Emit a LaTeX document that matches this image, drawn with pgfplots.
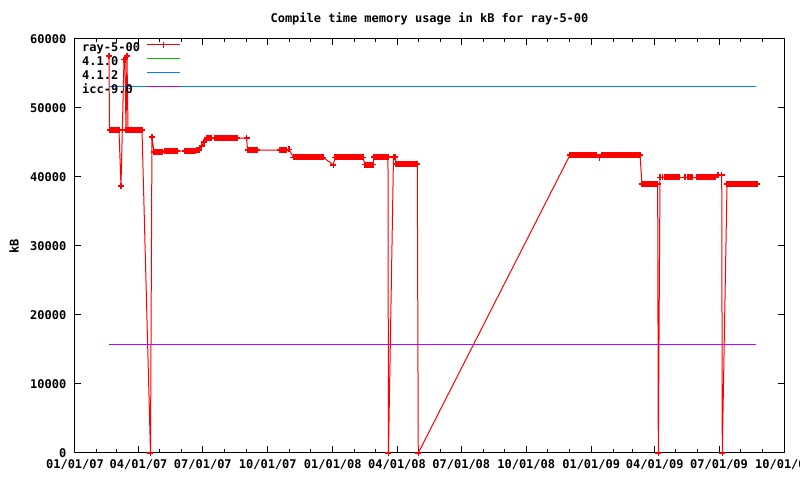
\documentclass[border=0pt]{standalone}
\usepackage{pgfplots}
\pgfplotsset{compat=1.18}
\usepackage{fontspec}
\setmainfont{DejaVu Sans Mono}
\definecolor{gpred}{RGB}{255,0,0}
\definecolor{gpgreen}{RGB}{0,192,0}
\definecolor{gpblue}{RGB}{0,128,255}
\definecolor{gpmag}{RGB}{192,0,255}
\begin{document}
\begin{tikzpicture}[font=\fontsize{12bp}{13bp}\selectfont\bfseries]
\begin{axis}[
 scale only axis, width=709bp, height=414bp,
 xmin=0, xmax=1004, ymin=0, ymax=60000,
 scaled y ticks=false,
 xtick={0,90,181,273,365,456,547,639,731,821,912,1004},
 xticklabels={01/01/07,04/01/07,07/01/07,10/01/07,01/01/08,04/01/08,07/01/08,10/01/08,01/01/09,04/01/09,07/01/09,10/01/09},
 minor xtick={31,59,120,151,212,243,304,334,396,425,486,517,578,608,669,700,762,790,851,882,943,974},
 ytick={0,10000,20000,30000,40000,50000,60000},
 yticklabels={0,10000,20000,30000,40000,50000,60000},
 tick align=inside,
 major tick length=6.5bp, minor tick length=3.5bp,
 tick style={black, line width=1bp},
 axis line style={black, line width=1bp},
 axis on top=true,
 clip=false,
 xticklabel style={anchor=north, inner sep=0pt, yshift=-6.5bp},
 yticklabel style={anchor=east, inner sep=0pt, xshift=-8.5bp},
 title={Compile time memory usage in kB for ray-5-00},
 title style={at={(0.5,1)}, anchor=base, inner sep=0pt, yshift=11bp},
 legend plot pos=right,
 legend cell align=left,
 legend image code/.code={\draw[mark repeat=2,mark phase=2,#1] plot coordinates {(0bp,4bp) (16.5bp,4bp) (33bp,4bp)};},
 legend style={at={(0.0092,0.994)}, anchor=north west, draw=none, fill=none, inner sep=0pt,
   row sep=1bp, column sep=6bp, nodes={inner sep=0.5bp, text height=9bp, text depth=3bp}},
]
\addplot[color=gpred, line width=1bp, mark=+, mark size=3bp, mark options={solid, line width=1.5bp}] table {
48.1 57500
48.9 46800
51.0 46800
53.8 46800
56.6 46800
59.5 46800
62.3 46800
65.1 38700
69.4 57000
70.8 57000
72.2 46800
73.6 57500
75.1 46800
77.9 46800
80.7 46800
83.5 46800
86.4 46800
89.2 46800
92.0 46800
94.9 46800
106.9 0
109.0 45800
111.9 43600
114.7 43600
117.5 43600
120.4 43600
123.2 43600
127.4 43750
130.3 43750
133.1 43750
135.9 43750
138.8 43750
141.6 43750
144.4 43750
155.8 43750
158.6 43750
161.4 43750
164.3 43750
167.1 43750
169.9 43750
172.8 43900
175.6 43900
179.4 44500
182.7 45100
186.9 45650
189.7 45650
192.6 45650
198.2 45650
201.1 45650
203.9 45650
206.7 45650
209.6 45650
212.4 45650
215.2 45650
218.1 45650
220.9 45650
223.7 45650
226.6 45650
229.4 45650
243.1 45650
244.3 43900
246.4 43900
249.2 43900
252.0 43900
254.9 43900
257.7 43900
290.3 43900
293.1 43900
296.0 43900
298.8 43900
303.0 44000
309.4 42850
311.5 42850
314.4 42850
317.2 42850
320.0 42850
322.9 42850
325.7 42850
328.5 42850
331.4 42850
334.2 42850
337.0 42850
339.8 42850
342.7 42850
345.5 42850
348.3 42850
351.2 42850
365.8 41750
368.2 42850
371.0 42850
373.8 42850
376.7 42850
379.5 42850
382.3 42850
385.2 42850
388.0 42850
390.8 42850
393.7 42850
396.5 42850
399.3 42850
402.1 42850
405.0 42850
407.8 42850
410.7 41800
413.5 41800
416.3 41800
419.1 41800
422.0 41800
423.4 42900
426.2 42900
429.1 42900
431.9 42900
434.7 42900
437.6 42900
440.4 42900
443.2 42900
443.9 0
451.0 42900
453.1 42900
454.6 41850
457.4 41850
460.2 41850
463.1 41850
465.9 41850
468.7 41850
471.6 41850
474.4 41850
477.2 41850
480.0 41850
482.9 41850
484.7 41850
486.1 0
701.0 43200
703.8 43200
706.6 43200
709.5 43200
712.3 43200
715.1 43200
718.0 43200
720.8 43200
723.6 43200
726.5 43200
729.3 43200
732.1 43200
734.9 43200
737.8 43200
742.4 42800
746.3 43200
749.1 43200
751.9 43200
754.8 43200
757.6 43200
760.4 43200
763.3 43200
766.1 43200
768.9 43200
771.8 43200
774.6 43200
777.4 43200
780.2 43200
783.1 43200
785.9 43200
788.7 43200
791.6 43200
794.4 43200
797.2 43200
800.1 43200
802.9 38950
805.7 38950
808.6 38950
811.4 38950
814.2 38950
817.1 38950
819.9 38950
822.7 38950
825.1 38950
826.0 0
828.4 39950
832.0 39950
835.5 39950
838.3 39950
841.2 39950
844.0 39950
846.8 39950
849.6 39950
852.5 39950
855.3 39950
863.8 39950
868.1 39950
870.9 39950
873.7 39950
880.8 39950
883.6 39950
886.5 39950
889.3 39950
892.1 39950
894.9 39950
897.8 39950
900.6 39950
903.4 39950
906.3 39950
910.5 40300
915.8 40300
916.6 0
923.3 38950
926.1 38950
928.9 38950
931.8 38950
934.6 38950
937.4 38950
940.3 38950
943.1 38950
945.9 38950
948.8 38950
951.6 38950
954.4 38950
957.3 38950
960.1 38950
962.9 38950
965.8 38950
};
\addlegendentry{ray-5-00}
\addplot[color=gpgreen, line width=1.1bp] coordinates {(48,53120) (964,53120)};
\addlegendentry{4.1.0}
\addplot[color=gpblue, line width=1.1bp] coordinates {(48,53120) (964,53120)};
\addlegendentry{4.1.2}
\addplot[color=gpmag, line width=1.1bp] coordinates {(48,15730) (964,15730)};
\addlegendentry{icc-9.0}
\coordinate (O) at (rel axis cs:0,0);
\coordinate (YL) at (rel axis cs:0,0.5);
\end{axis}
\node[rotate=90, inner sep=0pt] at ([xshift=-61bp]YL) {kB};
\pgfresetboundingbox
\path ([shift={(-75bp,-27bp)}]O) rectangle ++(800bp,480bp);
\end{tikzpicture}
\end{document}
